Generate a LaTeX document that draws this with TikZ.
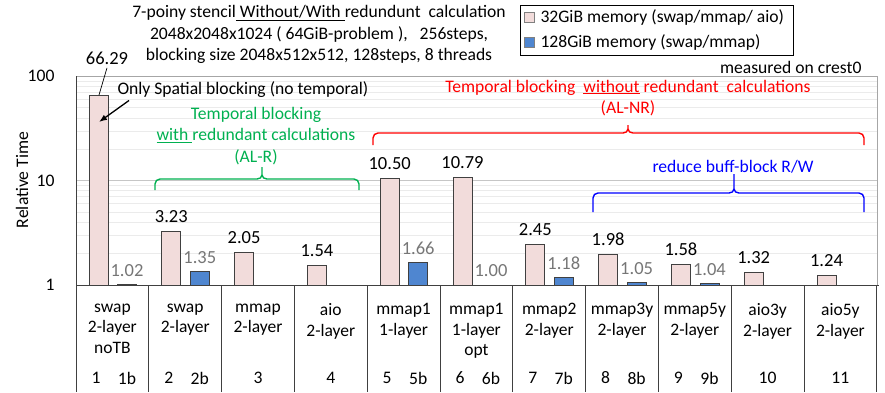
\documentclass[tikz,border=0pt]{standalone}
\usepackage{fontspec}
\setmainfont{Carlito}
\usetikzlibrary{arrows.meta}
\definecolor{barpink}{HTML}{F2DCDB}
\definecolor{barblue}{HTML}{4F86D0}
\definecolor{edgegray}{HTML}{404040}
\definecolor{exgreen}{HTML}{00B050}
\definecolor{valgray}{HTML}{767676}
\definecolor{gridgray}{HTML}{EBEBEB}
% brace: colour, x left, x right, x tip, y ends, y flat, y tip
\newcommand{\groupbrace}[7]{%
  \draw[#1, line width=1.4pt] (#2,#5) -- (#2,#6-5) to[out=90,in=180] (#2+5,#6)
    -- (#4-5,#6) to[out=0,in=-90] (#4,#6+4) -- (#4,#7) -- (#4,#6+4)
    to[out=-90,in=180] (#4+5,#6) -- (#3-5,#6) to[out=0,in=90] (#3,#6-5) -- (#3,#5);}
\begin{document}
\begin{tikzpicture}[x=1pt, y=1pt, >={Latex[length=8pt,width=6pt]},
    pinkbar/.style={fill=barpink, draw=edgegray, line width=0.8pt},
    bluebar/.style={fill=barblue, draw=edgegray, line width=0.8pt},
    vallbl/.style={font=\fontsize{18.5}{22}\selectfont},
    grylbl/.style={font=\fontsize{18.5}{22}\selectfont, text=valgray},
    catlbl/.style={font=\fontsize{17.5}{20.5}\selectfont, align=center, anchor=north},
    txt/.style={font=\fontsize{17.6}{21.5}\selectfont}]
    \useasboundingbox (0,0) rectangle (885,392);

    % 1. Luoi va khung do thi (log, 1..100)
    \foreach \d in {0,1}
      \foreach \m in {2,...,9}
        \draw[gridgray, line width=0.8pt] (76,{107+104.3*(\d+log10(\m))}) -- (877,{107+104.3*(\d+log10(\m))});
    \draw[gray!45, line width=1pt] (76,211.3) -- (877,211.3);
    \draw[gray!70, line width=1pt] (76,315.6) -- (877,315.6) -- (877,107);
    \draw[edgegray, line width=1pt] (76,315.6) -- (76,0);
    \draw[edgegray, line width=1pt] (76,107) -- (879,107);
    \foreach \i in {1,...,11}
      \draw[edgegray, line width=1pt] ({76+72.8*\i},107) -- ({76+72.8*\i},0);

    % 2. Truc tung
    \node[txt, anchor=east] (t100) at (58,316) {100};
    \node[txt, anchor=east] (t10) at (58,211) {10};
    \node[txt, anchor=east] (t1) at (58,107) {1};
    \node[txt, rotate=90] (ytitle) at (22,212) {Relative Time};

    % 3. Cot hong (32GiB)
    \foreach \i/\v in {0/66.29, 1/3.23, 2/2.05, 3/1.54, 4/10.50, 5/10.79, 6/2.45, 7/1.98, 8/1.58, 9/1.32, 10/1.24}
      \draw[pinkbar] ({76+72.8*\i+13},107) rectangle ({76+72.8*\i+32},{107+104.3*log10(\v)});
    \foreach \i/\v in {1/3.23, 2/2.05, 3/1.54, 4/10.50, 5/10.79, 6/2.45, 7/1.98, 8/1.58, 9/1.32, 10/1.24}
      \node[vallbl] (p\i) at ({76+72.8*\i+22.5},{122+104.3*log10(\v)}) {\v};

    % 4. Cot xanh (128GiB)
    \foreach \i/\v in {0/1.02, 1/1.35, 4/1.66, 6/1.18, 7/1.05, 8/1.04}
      \draw[bluebar] ({76+72.8*\i+41.5},107) rectangle ({76+72.8*\i+60.5},{107+104.3*log10(\v)});
    \foreach \i/\v in {0/1.02, 1/1.35, 4/1.66, 5/1.00, 6/1.18, 7/1.05, 8/1.04}
      \node[grylbl] (b\i) at ({76+72.8*\i+51},{121+104.3*log10(\v)}) {\v};

    % 5. Nhan 66.29 va chu thich
    \node[vallbl] (v66) at (107,334) {66.29};
    \coordinate (top66) at (99,297);
    \draw[line width=0.7pt] (v66.south) -- (top66);
    \node[txt, anchor=west] (spatial) at (114,302) {Only Spatial blocking (no temporal)};
    \coordinate (arrtip) at (99,270);
    \draw[->, line width=1.3pt] ([xshift=15pt,yshift=1pt]spatial.south west) -- (arrtip);

    % 6. Nhan truc hoanh
    \foreach \i/\t in {0/{swap\\2-layer\\noTB}, 1/{swap\\2-layer}, 2/{mmap\\2-layer}, 3/{aio\\2-layer},
        4/{mmap1\\1-layer}, 5/{mmap1\\1-layer\\opt}, 6/{mmap2\\2-layer}, 7/{mmap3y\\2-layer},
        8/{mmap5y\\2-layer}, 9/{aio3y\\2-layer}, 10/{aio5y\\2-layer}}
      \node[catlbl] (c\i) at ({76+72.8*\i+36.4},92) {\t};
    \foreach \i/\a/\b in {0/1/1b, 1/2/2b, 4/5/5b, 5/6/6b, 6/7/7b, 7/8/8b, 8/9/9b} {
      \node[txt] (na\i) at ({76+72.8*\i+20},14) {\a};
      \node[txt] (nb\i) at ({76+72.8*\i+51},14) {\b};
    }
    \foreach \i/\a in {2/3, 3/4, 9/10, 10/11}
      \node[txt] (na\i) at ({76+72.8*\i+36.4},14) {\a};

    % 7. Tieu de va chu giai
    \node[txt, align=center] (title) at (319,357.5)
      {7-poiny stencil\underline{\ Without/With\ }redundunt\ \ calculation\\
       2048x2048x1024 ( 64GiB-problem ),\ \ \ 256steps,\\
       blocking size 2048x512x512, 128steps, 8 threads};
    \draw[line width=0.9pt] (520,337) rectangle (793,387);
    \draw[fill=barpink, draw=gray] (524,370) rectangle (534,380);
    \draw[fill=barblue, draw=gray] (524,345) rectangle (534,355);
    \node[txt, anchor=west] (leg1) at (537,375) {32GiB memory (swap/mmap/ aio)};
    \node[txt, anchor=west] (leg2) at (537,350) {128GiB memory (swap/mmap)};
    \node[txt, anchor=east] (crest) at (865,325) {measured on crest0};

    % 8. Nhom (ngoac)
    \node[txt, red, align=center] (alnr) at (628,294)
      {Temporal blocking\ \ \underline{without} redundant\ \ calculations\\(AL-NR)};
    \groupbrace{red}{373}{864}{628}{247}{259}{267}
    \node[txt, exgreen, align=center] (alr) at (256,256)
      {Temporal blocking\\\underline{with\ }redundant calculations\\(AL-R)};
    \groupbrace{exgreen}{155}{359}{262}{202}{213}{225}
    \node[txt, blue] (rbb) at (733,225) {reduce buff-block R/W};
    \groupbrace{blue}{593}{864}{734}{180}{199}{218}

\end{tikzpicture}
\end{document}
